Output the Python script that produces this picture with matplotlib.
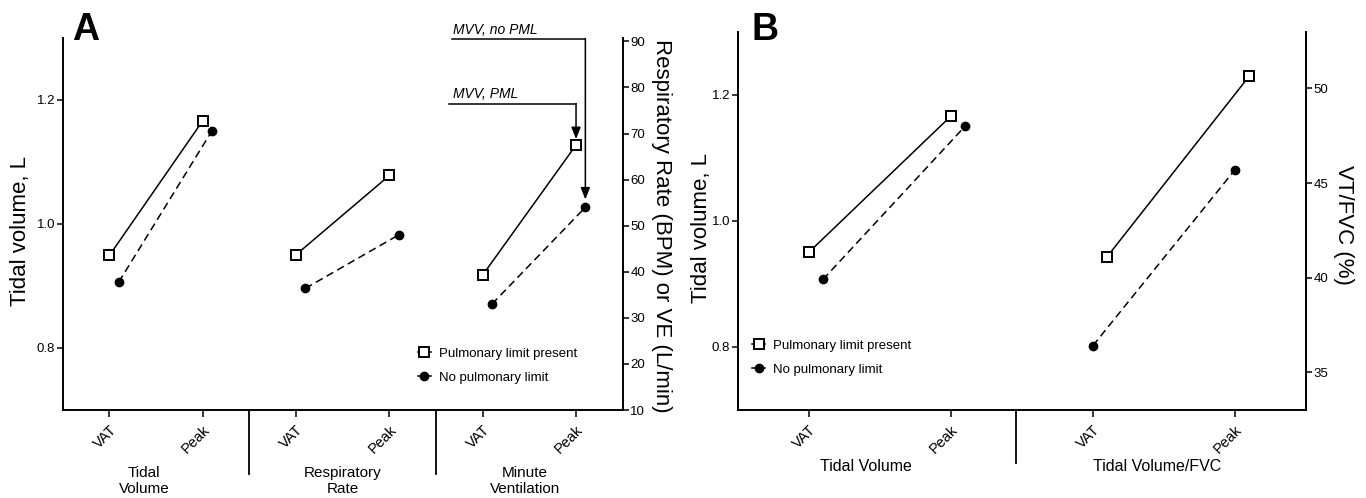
import matplotlib
matplotlib.use("Agg")
import matplotlib.pyplot as plt
from matplotlib.lines import Line2D
from matplotlib.transforms import blended_transform_factory

plt.rcParams['font.family'] = ['Liberation Sans', 'DejaVu Sans']

# ---------------- data ----------------
phase_labels = ["VAT", "Peak"]
groups_A = ["Tidal\nVolume", "Respiratory\nRate", "Minute\nVentilation"]
groups_B = ["Tidal Volume", "Tidal Volume/FVC"]
series_names = ["Pulmonary limit present", "No pulmonary limit"]

# Panel A (tidal volume on left axis, L)
pml_tv_A = [0.949, 1.166]
nopml_tv_A = [0.906, 1.150]
# Panel A (respiratory rate, BPM, right axis)
pml_rr = [43.7, 60.9]
nopml_rr = [36.4, 48.0]
# Panel A (minute ventilation, L/min, right axis)
pml_ve = [39.3, 67.5]
nopml_ve = [33.0, 54.0]
# MVV annotation levels (right axis)
mvv_pml_level = 76.5
mvv_nopml_level = 90.6

# Panel B
pml_tv_B = [0.950, 1.166]
nopml_tv_B = [0.907, 1.150]
pml_fvc = [41.1, 50.65]
nopml_fvc = [36.4, 45.7]

# ---------------- styles ----------------
sq_style = dict(color='black', linestyle='-', linewidth=1.1, marker='s', markersize=6.5,
                markerfacecolor='white', markeredgecolor='black', markeredgewidth=1.4, zorder=3)
ci_style = dict(color='black', linestyle=(0, (5, 3)), linewidth=1.1, marker='o', markersize=6,
                markerfacecolor='black', markeredgecolor='black', zorder=3)

W, H = 1366, 498
fig = plt.figure(figsize=(W / 100, H / 100), dpi=100)


def px_axes(l, t, r, b):
    return fig.add_axes([l / W, 1 - b / H, (r - l) / W, (b - t) / H])


def style_axis(ax, ysize):
    ax.spines['top'].set_visible(False)
    ax.spines['right'].set_visible(False)
    for s in ['left', 'bottom']:
        ax.spines[s].set_linewidth(1.4)
    ax.tick_params(axis='y', direction='out', length=4, width=1.1, labelsize=ysize, pad=1.5)


def style_twin(ax2, ysize):
    ax2.spines['top'].set_visible(False)
    ax2.spines['left'].set_visible(False)
    ax2.spines['bottom'].set_visible(False)
    ax2.spines['right'].set_linewidth(1.4)
    ax2.tick_params(axis='y', direction='out', length=4, width=1.1, labelsize=ysize, pad=1.5)


# ================= Panel A =================
axA = px_axes(62.7, 37.7, 622.7, 410)
axA.set_xlim(0, 12)
axA.set_ylim(0.7, 1.3)
axA.set_yticks([0.8, 1.0, 1.2])
axA.set_yticklabels(["0.8", "1.0", "1.2"])
style_axis(axA, 9.5)
axA2 = axA.twinx()
axA2.set_ylim(10, 90.8)
axA2.set_yticks(range(10, 91, 10))
style_twin(axA2, 9.5)

off = 0.2
tA = [1, 3, 5, 7, 9, 11]
axA.set_xticks(tA)
axA.set_xticklabels(phase_labels * 3, rotation=45, ha='right', rotation_mode='anchor')
axA.tick_params(axis='x', direction='out', length=5, width=1.1, labelsize=10.5, pad=4)

# tidal volume on left
axA.plot([1, 3], pml_tv_A, **sq_style)
axA.plot([1 + off, 3 + off], nopml_tv_A, **ci_style)
# RR and VE on right axis
axA2.plot([5, 7], pml_rr, **sq_style)
axA2.plot([5 + off, 7 + off], nopml_rr, **ci_style)
axA2.plot([9, 11], pml_ve, **sq_style)
axA2.plot([9 + off, 11 + off], nopml_ve, **ci_style)

# MVV annotations
arrow_kw = dict(arrowstyle='-|>,head_length=0.7,head_width=0.28', color='black',
                lw=1.1, shrinkA=0, shrinkB=0)
axA2.plot([8.35, 11 + off], [mvv_nopml_level] * 2, color='black', lw=1.1, clip_on=False)
axA2.annotate('', xy=(11 + off, nopml_ve[1] + 1.7), xytext=(11 + off, mvv_nopml_level),
              arrowprops=arrow_kw, annotation_clip=False)
axA2.plot([8.28, 11], [mvv_pml_level] * 2, color='black', lw=1.1, clip_on=False)
axA2.annotate('', xy=(11, pml_ve[1] + 1.3), xytext=(11, mvv_pml_level),
              arrowprops=arrow_kw, annotation_clip=False)
axA2.text(8.37, mvv_nopml_level + 1.9, "MVV, no PML", style='italic', fontsize=10,
          ha='left', va='center', clip_on=False)
axA2.text(8.37, mvv_pml_level + 2.0, "MVV, PML", style='italic', fontsize=10,
          ha='left', va='center')

# group labels + dividers
trA = blended_transform_factory(axA.transData, axA.transAxes)
for gx, lab in zip([1.75, 6.0, 9.9], groups_A):
    axA.text(gx, -0.191, lab, transform=trA, ha='center', va='center', fontsize=11,
             linespacing=1.12)
for dx in [4, 8]:
    axA.plot([dx, dx], [0, -0.172], transform=trA, color='black', lw=1.3, clip_on=False)

axA.set_ylabel("Tidal volume, L", fontsize=16, va='center')
axA.yaxis.set_label_coords(-0.0745, 0.48)
axA2.set_ylabel("Respiratory Rate (BPM) or VE (L/min)", fontsize=16, rotation=270, va='center')
axA2.yaxis.set_label_coords(1.0696, 0.4956)

handles = [Line2D([], [], **sq_style), Line2D([], [], **{**ci_style, 'linestyle': '-'})]
leg_kw = dict(loc='upper left', frameon=False, handlelength=1.0, handletextpad=0.6,
              labelspacing=0.9, borderaxespad=0, borderpad=0, fontsize=9.5)
axA.legend(handles, series_names, bbox_to_anchor=(0.634, 0.168), **leg_kw)

fig.text(71.7 / W, 1 - 40 / H, "A", fontsize=27, fontweight='bold', va='baseline', ha='left')

# ================= Panel B =================
axB = px_axes(737.7, 31.7, 1306, 410)
axB.set_xlim(0, 8)
axB.set_ylim(0.7, 1.3)
axB.set_yticks([0.8, 1.0, 1.2])
axB.set_yticklabels(["0.8", "1.0", "1.2"])
style_axis(axB, 9.5)
axB2 = axB.twinx()
axB2.set_ylim(33, 53)
axB2.set_yticks([35, 40, 45, 50])
style_twin(axB2, 9.5)

axB.set_xticks([1, 3, 5, 7])
axB.set_xticklabels(phase_labels * 2, rotation=45, ha='right', rotation_mode='anchor')
axB.tick_params(axis='x', direction='out', length=5, width=1.1, labelsize=10.5, pad=4)

axB.plot([1, 3], pml_tv_B, **sq_style)
axB.plot([1 + off, 3 + off], nopml_tv_B, **ci_style)
axB2.plot([5 + off, 7 + off], pml_fvc, **sq_style)
axB2.plot([5, 7], nopml_fvc, **ci_style)

trB = blended_transform_factory(axB.transData, axB.transAxes)
for gx, lab in zip([1.81, 5.90], groups_B):
    axB.text(gx, -0.15, lab, transform=trB, ha='center', va='center', fontsize=11.5)
axB.plot([3.92, 3.92], [0, -0.14], transform=trB, color='black', lw=1.3, clip_on=False)

axB.set_ylabel("Tidal volume, L", fontsize=16, va='center')
axB.yaxis.set_label_coords(-0.0633, 0.48)
axB2.set_ylabel("VT/FVC (%)", fontsize=16, rotation=270, va='center')
axB2.yaxis.set_label_coords(1.066, 0.49)

axB.legend(handles, series_names, bbox_to_anchor=(0.025, 0.186), **leg_kw)

fig.text(751.7 / W, 1 - 40 / H, "B", fontsize=27, fontweight='bold', va='baseline', ha='left')

fig.savefig("out.png", dpi=100, facecolor='white')
